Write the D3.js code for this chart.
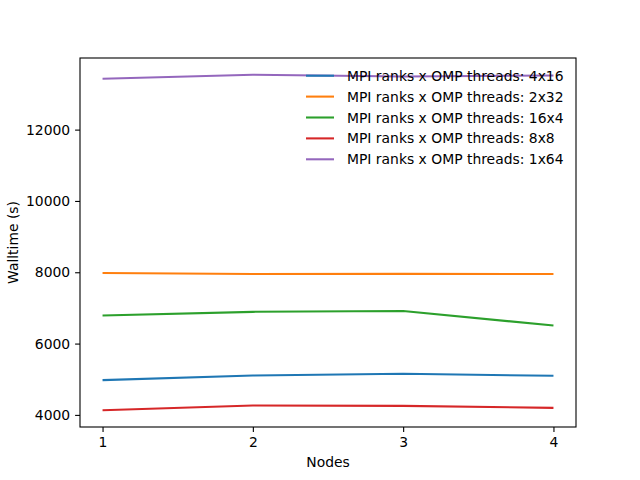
<!DOCTYPE html>
<html>
<head>
<meta charset="utf-8">
<script src="https://d3js.org/d3.v7.min.js"></script>
<style>
  body { margin: 0; background: #fff; }
  text { font-family: "DejaVu Sans", sans-serif; fill: #000; }
</style>
</head>
<body>
<div id="chart"></div>
<script>
    // values
    var nodes = [1, 2, 3, 4];
    var seriesNames = ["MPI ranks x OMP threads: 4x16", "MPI ranks x OMP threads: 2x32",
        "MPI ranks x OMP threads: 16x4", "MPI ranks x OMP threads: 8x8", "MPI ranks x OMP threads: 1x64"];
    var colors = ["#1f77b4", "#ff7f0e", "#2ca02c", "#d62728", "#9467bd"];
    var run4x16 = [4975, 5104, 5152, 5096];
    var run2x32 = [7980, 7950, 7955, 7950];
    var run16x4 = [6785, 6890, 6915, 6505];
    var run8x8 = [4131, 4262, 4253, 4197];
    var run1x64 = [13427, 13538, 13490, 13520];
    var yTicks = [4000, 6000, 8000, 10000, 12000];

    var allSeries = [run4x16, run2x32, run16x4, run8x8, run1x64];

    var W = 640, H = 480;
    var margin = { top: 58, right: 64, bottom: 53, left: 80 };
    var width = W - margin.left - margin.right,
        height = H - margin.top - margin.bottom;

    var svg = d3.select("#chart").append("svg")
        .attr("width", W)
        .attr("height", H);
    var g = svg.append("g")
        .attr("transform", "translate(" + margin.left + "," + margin.top + ")");

    // matplotlib style 5% margins
    var ymin = d3.min(allSeries, function (s) { return d3.min(s); });
    var ymax = d3.max(allSeries, function (s) { return d3.max(s); });
    var ypad = (ymax - ymin) * 0.05;
    var xpad = (nodes[nodes.length - 1] - nodes[0]) * 0.05;

    var x = d3.scaleLinear().domain([nodes[0] - xpad, nodes[nodes.length - 1] + xpad]).range([0, width]);
    var y = d3.scaleLinear().domain([ymin - ypad, ymax + ypad]).range([height, 0]);

    var line = d3.line()
        .x(function (d, i) { return x(nodes[i]); })
        .y(function (d) { return y(d); });

    allSeries.forEach(function (s, i) {
        g.append("path")
            .datum(s)
            .attr("fill", "none")
            .attr("stroke", colors[i])
            .attr("stroke-width", 2.08)
            .attr("d", line);
    });

    // axes
    var xAxis = g.append("g")
        .attr("transform", "translate(0," + height + ")")
        .call(d3.axisBottom(x).tickValues(nodes).tickFormat(d3.format("d")).tickSizeOuter(0).tickSize(4.9).tickPadding(4.9));
    var yAxis = g.append("g")
        .call(d3.axisLeft(y).tickValues(yTicks).tickFormat(d3.format("d")).tickSizeOuter(0).tickSize(4.9).tickPadding(4.9));
    [xAxis, yAxis].forEach(function (a) {
        a.select(".domain").remove();
        a.selectAll("line").attr("stroke", "#000").attr("stroke-width", 1.1);
        a.selectAll("text").style("font-size", "13.9px").attr("fill", "#000");
    });

    // frame
    g.append("rect")
        .attr("width", width)
        .attr("height", height)
        .attr("fill", "none")
        .attr("stroke", "#000")
        .attr("stroke-width", 1.1);

    // axis titles
    svg.append("text")
        .attr("x", margin.left + width / 2)
        .attr("y", 467)
        .attr("text-anchor", "middle")
        .style("font-size", "13.9px")
        .text("Nodes");
    svg.append("text")
        .attr("transform", "translate(18," + (margin.top + height / 2) + ") rotate(-90)")
        .attr("text-anchor", "middle")
        .style("font-size", "13.9px")
        .text("Walltime (s)");

    // legend, no frame
    var legend = svg.append("g");
    seriesNames.forEach(function (name, i) {
        var ly = 75.7 + i * 20.9;
        legend.append("line")
            .attr("x1", 306).attr("x2", 334)
            .attr("y1", ly).attr("y2", ly)
            .attr("stroke", colors[i])
            .attr("stroke-width", 2.08);
        legend.append("text")
            .attr("x", 347)
            .attr("y", ly + 5)
            .style("font-size", "13.9px")
            .text(name);
    });
</script>
</body>
</html>
